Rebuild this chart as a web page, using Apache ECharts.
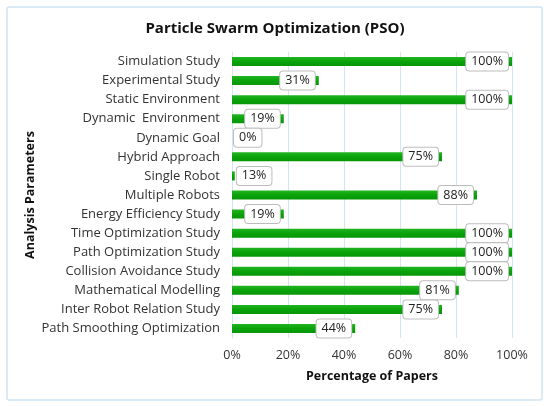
<!DOCTYPE html>
<html>
<head>
<meta charset="utf-8">
<script src="https://cdn.jsdelivr.net/npm/echarts@6/dist/echarts.min.js"></script>
<style>
  html, body { margin: 0; padding: 0; background: #fff; }
  #chart { width: 550px; height: 406px; }
</style>
</head>
<body>
<div id="chart"></div>
<script>
// categories, top to bottom as in the picture
var categories = [
    'Simulation Study',
    'Experimental Study',
    'Static Environment',
    'Dynamic  Environment',
    'Dynamic Goal',
    'Hybrid Approach',
    'Single Robot',
    'Multiple Robots',
    'Energy Efficiency Study',
    'Time Optimization Study',
    'Path Optimization Study',
    'Collision Avoidance Study',
    'Mathematical Modelling',
    'Inter Robot Relation Study',
    'Path Smoothing Optimization'
];
// bar lengths as drawn (percent)
var barValues = [100, 31, 100, 18.5, 0, 75, 1, 87.5, 18.5, 100, 100, 100, 81, 75, 44];
// data labels as printed on the chart
var labelTexts = ['100%', '31%', '100%', '19%', '0%', '75%', '13%', '88%', '19%', '100%', '100%', '100%', '81%', '75%', '44%'];
var xTicks = [0, 20, 40, 60, 80, 100];

var myChart = echarts.init(document.getElementById('chart'));

var barData = barValues.map(function (v, i) {
    var item = { value: v, text: labelTexts[i] };
    if (v < 10) {
        // short bars: label sits just right of the bar
        item.label = { position: 'right', distance: 2 };
    }
    return item;
});

var option = {
    animation: false,
    textStyle: { fontFamily: 'Open Sans, Noto Sans, sans-serif' },
    title: {
        text: 'Particle Swarm Optimization (PSO)',
        left: 'center',
        top: 16,
        textStyle: { fontSize: 15, fontWeight: 'bold', color: '#111' }
    },
    graphic: [{
        type: 'rect',
        shape: { x: 7, y: 7, width: 535, height: 393, r: 2 },
        style: { fill: 'none', stroke: '#cfe3f5', lineWidth: 1.5 },
        silent: true
    }, {
        // y axis title, placed by hand so it sits where the reference has it
        type: 'text',
        x: 30,
        y: 195,
        rotation: Math.PI / 2,
        style: {
            text: 'Analysis Parameters',
            fill: '#111',
            font: 'bold 12.5px Open Sans, Noto Sans, sans-serif',
            align: 'center',
            verticalAlign: 'middle'
        },
        silent: true
    }],
    grid: { left: 232, right: 38, top: 52, bottom: 68 },
    xAxis: {
        type: 'value',
        min: 0,
        max: 100,
        interval: 20,
        name: 'Percentage of Papers',
        nameLocation: 'middle',
        nameGap: 32,
        nameTextStyle: { fontSize: 12.5, fontWeight: 'bold', color: '#111' },
        axisLine: { show: false },
        axisTick: { show: false },
        axisLabel: {
            color: '#333',
            fontSize: 12.5,
            margin: 11,
            formatter: function (v) { return xTicks.indexOf(v) >= 0 ? v + '%' : ''; }
        },
        splitLine: { show: true, lineStyle: { color: '#d2e4f5', width: 1 } }
    },
    yAxis: {
        type: 'category',
        inverse: true,
        data: categories,
        axisLine: { show: true, lineStyle: { color: '#d2e4f5' } },
        axisTick: { show: false },
        axisLabel: { color: '#333', fontSize: 13, margin: 12 }
    },
    series: [{
        type: 'bar',
        data: barData,
        barWidth: 9,
        itemStyle: {
            color: new echarts.graphic.LinearGradient(0, 0, 0, 1, [
                { offset: 0, color: '#22b522' },
                { offset: 0.5, color: '#0aa30a' },
                { offset: 1, color: '#079507' }
            ])
        },
        label: {
            show: true,
            position: 'insideRight',
            distance: 4,
            formatter: function (p) { return p.data.text; },
            color: '#222',
            fontSize: 12.5,
            backgroundColor: '#fff',
            borderColor: '#bdbdbd',
            borderWidth: 1,
            borderRadius: 3,
            padding: [3, 5, 2, 5]
        }
    }]
};

myChart.setOption(option);
</script>
</body>
</html>
